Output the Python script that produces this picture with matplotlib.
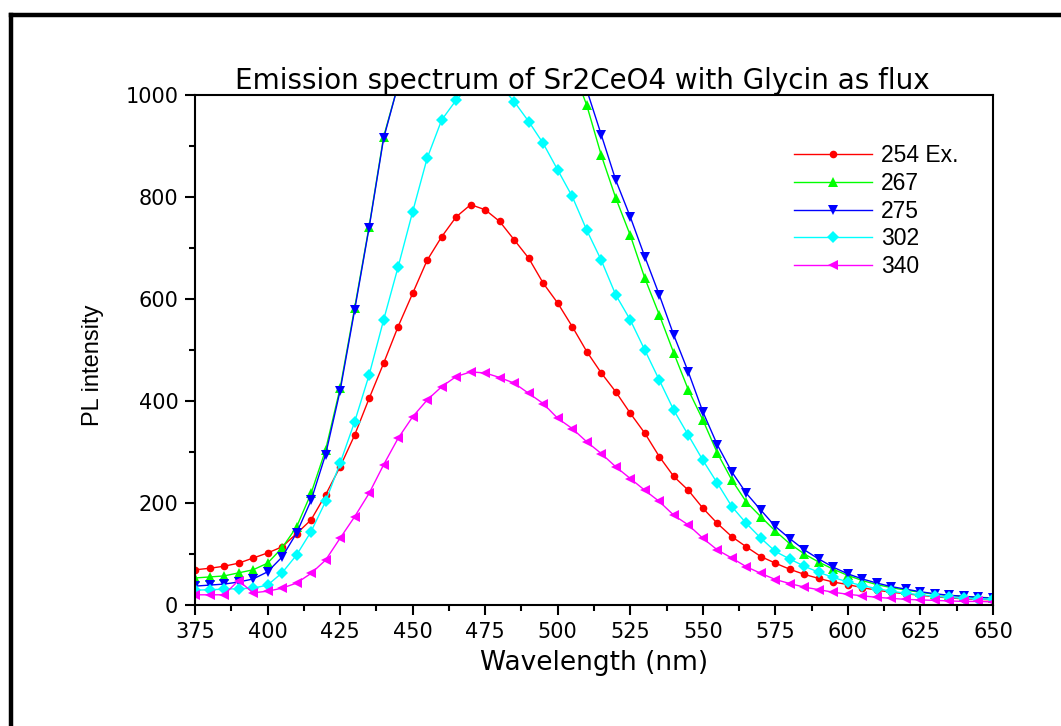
import matplotlib
matplotlib.use("Agg")
import matplotlib.pyplot as plt
from matplotlib.lines import Line2D
from matplotlib.ticker import MultipleLocator

plt.rcParams['font.family'] = ['DejaVu Sans']

wavelength = [375, 380, 385, 390, 395, 400, 405, 410, 415, 420, 425, 430, 435, 440, 445,
              450, 455, 460, 465, 470, 475, 480, 485, 490, 495, 500, 505, 510, 515, 520,
              525, 530, 535, 540, 545, 550, 555, 560, 565, 570, 575, 580, 585, 590, 595,
              600, 605, 610, 615, 620, 625, 630, 635, 640, 645, 650]

ex254 = [69, 72, 76, 82, 92, 102, 114, 140, 167, 216, 271, 333, 405, 474, 546,
         611, 676, 722, 761, 785, 775, 752, 716, 680, 631, 592, 546, 497, 455, 418,
         376, 337, 291, 252, 225, 190, 160, 134, 114, 95, 82, 70, 60, 52, 45,
         40, 34, 29, 25, 22, 19, 16, 14, 12, 11, 10]

ex267 = [53, 55, 57, 63, 69, 82, 112, 153, 219, 304, 425, 582, 742, 918, 1020,
         1150, 1300, 1420, 1490, 1520, 1520, 1490, 1430, 1350, 1250, 1150, 1055, 980, 882, 798,
         725, 641, 569, 494, 422, 363, 298, 245, 202, 173, 145, 120, 100, 84, 70,
         58, 48, 40, 34, 29, 25, 21, 19, 17, 15, 14]

ex275 = [37, 39, 41, 45, 51, 65, 94, 141, 205, 295, 420, 578, 740, 915, 1020,
         1150, 1300, 1430, 1500, 1530, 1530, 1510, 1450, 1380, 1290, 1190, 1095, 1010, 922, 833,
         761, 683, 608, 529, 457, 379, 314, 261, 219, 186, 154, 130, 108, 90, 74,
         61, 51, 43, 36, 31, 26, 22, 19, 17, 15, 13]

ex302 = [29, 30, 31, 32, 33, 39, 63, 98, 144, 203, 278, 359, 451, 559, 663,
         771, 876, 951, 990, 1020, 1035, 1020, 987, 948, 905, 853, 801, 735, 676, 608,
         559, 500, 441, 382, 333, 284, 239, 193, 160, 131, 105, 90, 76, 64, 54,
         45, 38, 32, 27, 23, 20, 17, 15, 13, 12, 11]

ex340 = [20, 20, 20, 48, 24, 27, 33, 43, 62, 88, 131, 173, 219, 275, 327,
         369, 402, 428, 448, 457, 455, 446, 435, 415, 395, 366, 346, 320, 297, 271,
         248, 225, 203, 176, 157, 131, 108, 92, 75, 62, 50, 42, 35, 30, 25,
         21, 18, 15, 13, 11, 10, 9, 8, 7, 7, 6]

series_labels = ["254 Ex.", "267", "275", "302", "340"]
series_colors = ["#FF0000", "#00FF00", "#0000FF", "#00FFFF", "#FF00FF"]
series_markers = ["o", "^", "v", "D", "<"]
series_data = [ex254, ex267, ex275, ex302, ex340]

fig = plt.figure(figsize=(10.61, 7.26), dpi=100)
ax = fig.add_axes([195/1061, 1 - 605/726, (993-195)/1061, (605-95)/726])

msizes = [5.5, 7.5, 7.5, 6.5, 7.5]
for lab, col, mk, d, ms in zip(series_labels, series_colors, series_markers, series_data, msizes):
    ax.plot(wavelength, d, color=col, marker=mk, markersize=ms, linewidth=1.0,
            markeredgewidth=0, label=lab)

ax.set_xlim(375, 650)
ax.set_ylim(0, 1000)
ax.xaxis.set_major_locator(MultipleLocator(25))
ax.xaxis.set_minor_locator(MultipleLocator(12.5))
ax.yaxis.set_major_locator(MultipleLocator(200))
ax.yaxis.set_minor_locator(MultipleLocator(100))
ax.tick_params(which='both', direction='out', width=1.5, top=False, right=False)
ax.tick_params(which='major', length=7, labelsize=15, pad=5)
ax.tick_params(which='minor', length=4)
for s in ax.spines.values():
    s.set_linewidth(1.5)

ax.set_title("Emission spectrum of Sr2CeO4 with Glycin as flux", fontsize=20, pad=2, x=0.485)
ax.set_xlabel("Wavelength (nm)", fontsize=19, labelpad=6)
ax.set_ylabel("PL intensity", fontsize=17, family=['Liberation Sans Narrow', 'Liberation Sans'])
ax.yaxis.set_label_coords(-0.114, 0.47)

leg = ax.legend(loc='upper right', frameon=False, handlelength=3.4,
                handletextpad=0.4, labelspacing=0.2, borderaxespad=0.2,
                bbox_to_anchor=(0.974, 0.93), markerscale=1.0,
                prop={'family': 'Liberation Sans', 'size': 16.5})

fig.add_artist(Line2D([10.5/1061, 10.5/1061], [0, 1 - 15/726], color='black', linewidth=3.2,
                      transform=fig.transFigure))
fig.add_artist(Line2D([10.5/1061, 1.0], [1 - 15/726, 1 - 15/726], color='black', linewidth=3.2,
                      transform=fig.transFigure))

fig.savefig("out.png", dpi=100)
